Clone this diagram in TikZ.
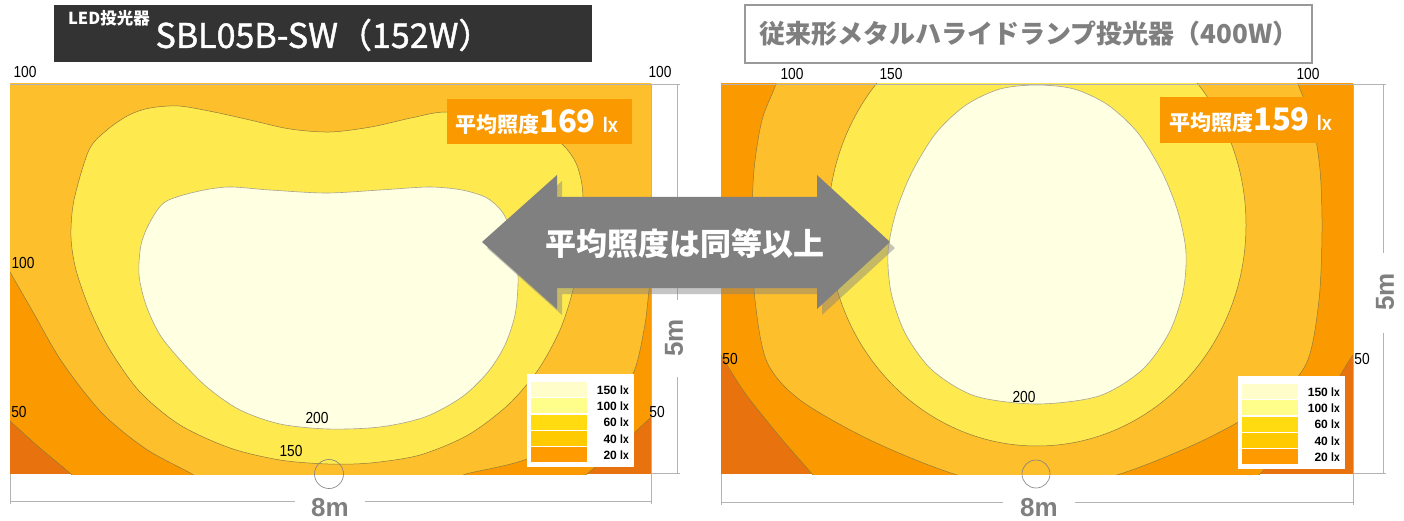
\documentclass[tikz,border=0pt]{standalone}
\usepackage{fontspec}
\setmainfont{Liberation Sans}
\newfontfamily\jpfont{Noto Sans CJK JP}
\newfontfamily\jpmed[FakeBold=1.3]{Noto Sans CJK JP}
\newfontfamily\narrowfont[FakeStretch=0.86]{Liberation Sans}
\definecolor{cDark}{HTML}{E8720E}
\definecolor{cOrange}{HTML}{FB9A00}
\definecolor{cMid}{HTML}{FDBF2B}
\definecolor{cYellow}{HTML}{FEE94F}
\definecolor{cCream}{HTML}{FFFFE2}
\definecolor{cLine}{HTML}{8F7A3A}
\definecolor{cCreamLine}{HTML}{A8A48A}
\definecolor{cDim}{HTML}{B3B3B3}
\definecolor{cGrayText}{HTML}{7F7F7F}
\definecolor{cTitle}{HTML}{333333}
\definecolor{cArrow}{HTML}{808080}
\definecolor{lg150}{HTML}{FFFDC9}
\definecolor{lg100}{HTML}{FFFE8A}
\definecolor{lg60}{HTML}{FFDB0F}
\definecolor{lg40}{HTML}{FFCB00}
\definecolor{lg20}{HTML}{FF9A00}
\tikzset{
  contour/.style={draw=cLine, line width=0.5pt},
  creamline/.style={draw=cCreamLine, line width=0.6pt},
  lbl/.style={font=\narrowfont\fontsize{16}{16}\selectfont, inner sep=0pt},
  dimline/.style={draw=cDim, line width=0.9pt},
  dimtxt/.style={font=\bfseries\fontsize{26}{26}\selectfont, text=cGrayText, inner sep=0pt},
  legtxt/.style={font=\bfseries\fontsize{12}{12}\selectfont, anchor=east, inner sep=0pt},
  marker/.style={draw=gray, line width=0.6pt},
}
\begin{document}
\begin{tikzpicture}[x=1pt,y=-1pt]
\useasboundingbox (0,0) rectangle (1404,521);
\fill[white] (0,0) rectangle (1404,521);

% ---------------- Left plot ----------------
\begin{scope}
\clip (10,84) rectangle (651,474);
\fill[cDark] (10,84) rectangle (651,474);
\path[fill=cOrange, contour] (0,60) -- (0,410) -- plot[smooth] coordinates {(10,421) (40,448) (71,474) (80,484)} -- (580,484) -- plot[smooth] coordinates {(587,474) (620,446) (648,420) (662,408)} -- (670,60) -- cycle;
\path[fill=cMid, contour] (0,60) -- (0,262) -- plot[smooth] coordinates {(10,272) (33,312) (62,362) (102,413) (146,449) (192,474) (205,484)} -- (455,484) -- plot[smooth] coordinates {(462,479) (466,474) (527,459) (592,424) (631,378) (644,330) (649,290) (652,262) (662,245)} -- (670,60) -- cycle;
\path[fill=cYellow, contour] plot[smooth cycle] coordinates {(89,150) (107,130) (129,115) (150,108) (179,106) (214,112) (250,120) (290,129) (330,132) (371,127) (411,118) (446,112) (500,118) (540,130) (563,145) (576,163) (582,185) (583,210) (580,250) (573,290) (560,330) (538,370) (508,405) (468,435) (420,455) (370,463) (328,464) (280,460) (230,448) (180,425) (140,392) (110,350) (90,310) (76,270) (71,237) (74,200)};
\path[fill=cCream, creamline] plot[smooth cycle] coordinates {(165,202) (195,192) (228,187) (270,190) (326,193) (380,190) (429,187) (462,190) (487,198) (503,213) (512,235) (517,260) (518,285) (515,315) (505,345) (488,372) (462,397) (425,417) (380,427) (328,429) (280,424) (240,410) (208,388) (182,362) (160,335) (146,305) (139,275) (141,245) (150,222)};
\end{scope}
\draw[dimline, line width=0.6pt] (10,84) -- (651,84) -- (651,474);

% ---------------- Right plot ----------------
\begin{scope}
\clip (721,84) rectangle (1353,474);
\fill[cDark] (721,84) rectangle (1353,474);
\path[fill=cOrange, contour] (700,60) -- (700,340) -- plot[smooth] coordinates {(721,355) (745,393) (780,437) (812,474) (820,486)} -- (1252,486) -- plot[smooth] coordinates {(1260,474) (1292,437) (1329,393) (1353,355) (1372,340)} -- (1378,60) -- cycle;
\path[fill=cMid, contour] plot[smooth cycle] coordinates {(790,40) (776,84) (762,120) (754,170) (752,230) (755,300) (767,362) (800,400) (870,440) (954,474) (1037,492) (1120,474) (1204,440) (1274,400) (1307,362) (1319,300) (1322,230) (1320,170) (1312,120) (1298,84) (1284,40) (1037,20)};
\path[fill=cYellow, contour] (1037,225) ellipse (209 and 221);
\path[fill=cCream, creamline] plot[smooth cycle] coordinates {(1037,85) (1000,89) (966,105) (936,133) (912,172) (896,212) (888,252) (891,292) (905,333) (932,370) (975,396) (1037,404) (1099,396) (1142,370) (1169,333) (1183,292) (1186,252) (1178,212) (1162,172) (1138,133) (1108,105) (1074,89)};
\end{scope}
\draw[dimline, line width=0.6pt] (721,84) -- (1353,84) -- (1353,474);

% ---------------- contour labels ----------------
\node[lbl] (lt1) at (25,72) {100};
\node[lbl] (lt2) at (660,72) {100};
\node[lbl] (ll1) at (23,263) {100};
\node[lbl] (ll2) at (19,412) {50};
\node[lbl] (lr1) at (657,412) {50};
\node[lbl] (lc1) at (317,418) {200};
\node[lbl] (lc2) at (291,451) {150};
\node[lbl] (rt1) at (792,74) {100};
\node[lbl] (rt2) at (891,74) {150};
\node[lbl] (rt3) at (1308,74) {100};
\node[lbl] (rl1) at (730,359) {50};
\node[lbl] (rr1) at (1362,359) {50};
\node[lbl] (rc1) at (1024,397) {200};

% ---------------- average boxes ----------------
\fill[cOrange] (447,99) rectangle (632,144);
\node[anchor=base west, inner sep=0pt, text=white] (avgL) at (455,133)
  {{\jpfont\bfseries\fontsize{21}{21}\selectfont 平均照度}{\jpfont\bfseries\fontsize{31}{31}\selectfont 169}\hspace{7pt}{\narrowfont\bfseries\fontsize{21}{21}\selectfont lx}};
\fill[cOrange] (1160,97) rectangle (1345,143);
\node[anchor=base west, inner sep=0pt, text=white] (avgR) at (1169,131)
  {{\jpfont\bfseries\fontsize{21}{21}\selectfont 平均照度}{\jpfont\bfseries\fontsize{31}{31}\selectfont 159}\hspace{7pt}{\narrowfont\bfseries\fontsize{21}{21}\selectfont lx}};

% ---------------- legends ----------------
\foreach \px/\py/\pre in {527/374/L, 1238/376/R} {
  \fill[white] (\px,\py) rectangle ++(107,93);
  \foreach \col/\txt [count=\i] in {lg150/150, lg100/100, lg60/60, lg40/40, lg20/20} {
    \fill[\col] (\px+4, \py+8+16.3*\i-16.3) rectangle ++(56,15);
    \node[legtxt] (\pre leg\i) at (\px+102, \py+16+16.3*\i-16.3) {\txt\ {\narrowfont lx}};
  }
}

% ---------------- markers ----------------
\draw[marker] (329,474) circle (14.5);
\draw[marker] (1036,474) circle (14);

% ---------------- dimensions ----------------
\draw[dimline] (651,84) -- (680,84);
\draw[dimline] (651,473) -- (680,473);
\draw[dimline] (677,84) -- (677,300);
\draw[dimline] (677,377) -- (677,473);
\node[dimtxt, rotate=90] (h5L) at (674,338) {5m};
\draw[dimline] (1354,84) -- (1386,84);
\draw[dimline] (1354,473) -- (1386,473);
\draw[dimline] (1383,84) -- (1383,253);
\draw[dimline] (1383,333) -- (1383,473);
\node[dimtxt, rotate=90] (h5R) at (1385,292) {5m};
\draw[dimline] (10,474) -- (10,504);
\draw[dimline] (651,474) -- (651,504);
\draw[dimline] (10,501) -- (295,501);
\draw[dimline] (365,501) -- (651,501);
\node[dimtxt] (w8L) at (330,508) {8m};
\draw[dimline] (721,474) -- (721,505);
\draw[dimline] (1353,474) -- (1353,505);
\draw[dimline] (721,502) -- (1003,502);
\draw[dimline] (1075,502) -- (1353,502);
\node[dimtxt] (w8R) at (1039,508) {8m};

% ---------------- titles ----------------
\fill[cTitle] (54,5) rectangle (592,62);
\node[text=white, inner sep=0pt, font=\jpfont\bfseries\fontsize{16.5}{16.5}\selectfont] (tLED) at (109,18) {LED投光器};
\node[text=white, inner sep=0pt, font=\jpmed\fontsize{34}{34}\selectfont] (tSBL) at (324,35) {SBL05B-SW（152W）};
\draw[draw=cGrayText!80, line width=2pt, fill=white] (745,5) rectangle (1312,63);
\node[text=cGrayText, inner sep=0pt, font=\jpfont\bfseries\fontsize{26}{26}\selectfont] (tOld) at (1029,34) {従来形メタルハライドランプ投光器（400W）};

% ---------------- big arrow ----------------
\fill[cArrow, opacity=0.45, shift={(5,6)}] (482,242) -- (557,175) -- (557,197) -- (817,197) -- (817,175) -- (890,242) -- (817,309) -- (817,288) -- (557,288) -- (557,309) -- cycle;
\fill[cArrow] (482,242) -- (557,175) -- (557,197) -- (817,197) -- (817,175) -- (890,242) -- (817,309) -- (817,288) -- (557,288) -- (557,309) -- cycle;
\node[text=white, inner sep=0pt, font=\jpfont\bfseries\fontsize{31}{31}\selectfont] (arrTxt) at (685,244) {平均照度は同等以上};
\end{tikzpicture}
\end{document}
